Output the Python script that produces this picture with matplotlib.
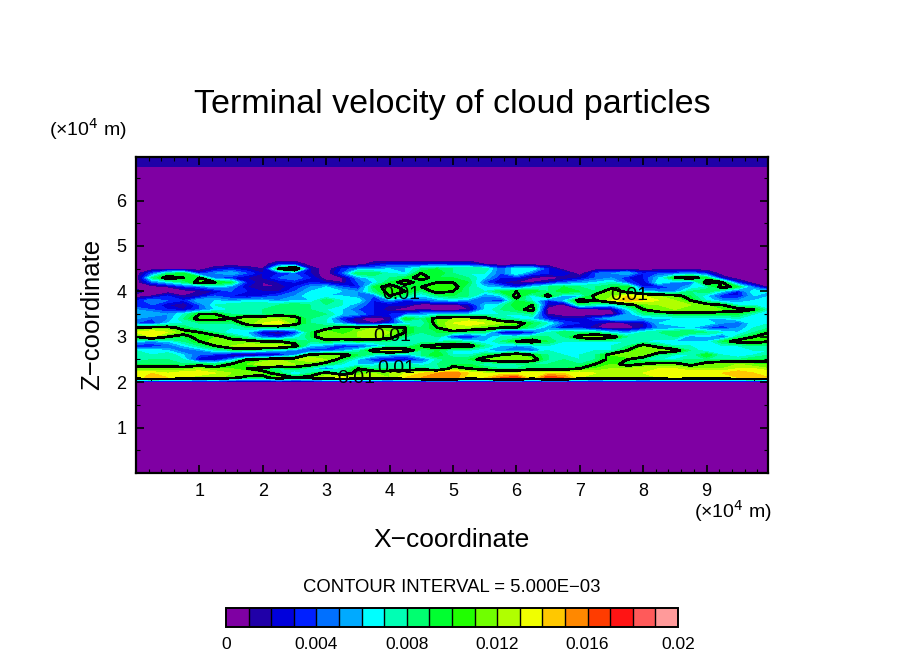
import numpy as np
import matplotlib
matplotlib.use('Agg')
import matplotlib.pyplot as plt
from matplotlib.colors import ListedColormap, BoundaryNorm

plt.rcParams['font.family'] = ['Liberation Sans', 'DejaVu Sans']
plt.rcParams['axes.unicode_minus'] = False

W, H = 904, 654

# values, in 1e-3 m/s, top row first (z = 4.7 down to 2.1)
z_rows = [4.7, 4.6, 4.5, 4.4, 4.3, 4.2, 4.1, 4.0, 3.9, 3.8, 3.7, 3.6, 3.5, 3.4,
          3.3, 3.2, 3.1, 3.0, 2.9, 2.8, 2.7, 2.6, 2.5, 2.4, 2.3, 2.2, 2.1]
x_cols = [0, .25, .5, .75, 1, 1.25, 1.5, 1.75, 2, 2.25, 2.5, 2.75, 3, 3.25, 3.5, 3.75,
          4, 4.25, 4.5, 4.75, 5, 5.25, 5.5, 5.75, 6, 6.25, 6.5, 6.75, 7, 7.25, 7.5, 7.75,
          8, 8.25, 8.5, 8.75, 9, 9.25, 9.5, 9.75, 10]
cloud = [
    [0,0,0,0,0,0,0,0,0,0,0,0,0,0,0,0,0,0,0,0,0,0,0,0,0,0,0,0,0,0,0,0,0,0,0,0,0,0,0,0,0],
    [0,0,0,0,0,0,0,0,0,3,3,0,0,0,0,2,3,3,3,3,3,3,1,0,0,0,0,0,0,0,0,0,0,0,0,0,0,0,0,0,0],
    [0,0,0,0,0,2,3,2,1,10,13,2,0,3,5,5,6,6,8,9,8,8,8,4,7,7,3,0,0,0,0,0,0,0,0,0,0,0,0,0,0],
    [0,4,8,9,3,5,6,4,2,3,4,2,0,4,9,9,7,6,10,10,8,7,7,4,7,4,3,3,0,4,5,6,3,4,4,5,3,0,0,0,0],
    [0,8,11,10,10,4,3,2,2,4,5,3,0,1,5,7,8,9,11,9,9,8,6,3,3,1,0,1,2,4,5,3,3,6,10,11,9,2,0,0,0],
    [0,4,6,8,11,10,9,3,1,2,3,3,2,1,4,6,9,11,9,10,10,9,4,2,1,1,2,4,5,6,7,4,2,7,5,4,11,10,3,0,0],
    [0,0,1,3,4,6,5,2,1,1,3,5,6,4,3,9,11,9,10,11,11,8,6,5,3,6,8,9,8,8,9,10,3,3,4,6,7,11,9,4,0],
    [2,0,0,0,1,2,4,3,2,2,4,6,7,6,5,8,11,10,8,11,10,8,7,9,10,10,8,10,9,8,12,9,6,5,5,8,9,6,3,7,6],
    [0,1,3,1,2,4,3,2,3,4,5,7,6,6,5,4,10,8,6,8,9,8,5,6,11,6,11,5,6,11,12,14,13,12,11,9,6,3,3,6,6],
    [3,5,4,3,6,6,5,6,6,5,6,6,9,7,7,3,5,3,4,5,6,5,4,3,9,7,3,6,11,10,13,15,14,13,12,10,7,5,5,6,7],
    [3,4,2,1,4,7,8,8,8,8,9,8,8,7,5,3,2,2,0,0,0,2,6,7,10,10,2,0,8,7,6,9,11,12,13,12,11,10,7,7,7],
    [5,4,3,2,4,6,7,8,8,9,9,8,7,6,4,3,1,0,1,0,0,1,6,8,9,11,0,0,0,0,1,6,10,12,12,12,12,11,11,10,7],
    [6,6,5,7,10,10,8,8,8,9,9,9,8,6,5,3,3,4,5,6,6,6,7,7,7,8,1,0,0,0,0,5,8,8,9,9,9,9,9,7,7],
    [5,4,5,8,11,11,10,12,12,12,11,8,7,3,1,0,1,10,8,11,12,12,11,8,7,6,3,2,2,4,6,6,5,6,6,6,6,6,7,7,7],
    [4,3,6,7,8,8,8,11,13,14,11,8,7,5,2,1,3,6,7,11,13,14,13,12,11,9,7,4,3,2,0,1,2,6,7,7,7,5,4,7,7],
    [10,11,11,9,7,8,7,8,8,8,8,9,9,11,11,12,12,10,8,10,13,12,11,10,10,8,5,2,3,1,0,0,2,5,5,6,4,3,5,7,8],
    [13,14,13,11,10,8,6,6,2,1,3,9,12,10,12,13,12,10,8,9,9,8,8,2,1,3,7,9,8,8,6,5,7,8,9,9,8,7,6,8,10],
    [10,13,10,9,11,11,9,7,4,3,6,9,12,12,12,13,11,8,8,8,3,2,5,7,7,8,8,8,11,12,11,8,8,8,8,5,6,4,8,10,11],
    [6,5,6,8,10,12,11,11,10,10,9,8,9,8,9,8,8,8,7,7,8,7,6,8,10,11,9,7,7,7,7,7,7,6,6,6,6,9,11,11,10],
    [3,3,4,6,8,10,12,13,13,13,11,6,5,3,3,5,7,7,10,11,11,11,8,6,5,6,7,7,7,7,7,8,11,9,7,7,7,7,7,8,8],
    [7,7,6,4,5,7,8,8,7,6,5,3,3,5,7,11,13,12,8,9,7,7,6,5,5,4,7,6,6,7,7,10,12,12,11,8,6,6,7,7,7],
    [8,7,8,6,4,3,1,0,1,2,5,11,12,11,9,7,6,5,8,10,7,7,9,10,12,10,8,7,7,8,11,12,12,8,7,7,10,7,6,7,8],
    [7,8,8,7,2,2,5,10,11,12,12,13,12,9,6,3,2,2,4,7,9,9,11,12,12,11,8,8,7,8,11,10,8,7,7,8,8,8,8,9,9],
    [9,9,9,8,9,8,10,11,13,13,12,11,9,7,6,6,8,8,6,8,9,9,7,7,8,8,8,9,8,10,11,9,10,11,11,9,11,12,12,11,11],
    [11,11,11,11,12,11,11,10,9,8,9,7,4,7,10,8,8,8,9,7,11,10,9,8,8,9,9,9,10,11,12,12,13,13,13,12,12,12,13,13,12],
    [14,14,13,14,14,13,12,12,11,9,5,8,11,8,11,12,12,13,14,15,16,14,13,13,13,14,14,14,14,13,13,13,13,14,14,14,14,14,15,14,14],
    [13,15,14,13,12,13,11,9,9,12,10,11,13,14,13,13,12,14,15,16,16,13,14,16,17,13,17,16,13,12,13,13,12,13,14,13,13,13,14,15,14],
]
top_layer = 1.5  # dark blue strip at the model top

x_ticks = [1, 2, 3, 4, 5, 6, 7, 8, 9]
y_ticks = [1, 2, 3, 4, 5, 6]
cbar_ticks = [0, 0.004, 0.008, 0.012, 0.016, 0.02]
cbar_labels = ['0', '0.004', '0.008', '0.012', '0.016', '0.02']
colors = ['#7f00a3', '#2000a8', '#0000dc', '#0020ff', '#0070ff', '#00aaff', '#00ffff',
          '#00ffb4', '#00ff70', '#00ff30', '#20ff00', '#70ff00', '#b0ff00', '#f0ff00',
          '#ffc800', '#ff8800', '#ff3c00', '#ff1414', '#ff5a5a', '#ff9a9a']
labels_x = [3.47, 4.04, 4.1, 4.18, 7.78]
labels_z = [2.09, 3.01, 2.31, 3.94, 3.91]

# add empty layers below/above the cloud and the top strip
x = np.array(x_cols, dtype=float)
z = np.array([6.96, 6.76, 6.74, 4.8] + z_rows + [2.0, 0.0])
empty = [0] * len(x_cols)
strip = [top_layer] * len(x_cols)
w = np.array([strip, strip, empty, empty] + cloud + [empty, empty], dtype=float) / 1000.0
z = z[::-1]
w = w[::-1]

def ax_rect(l, t, r, b):
    return [l / W, 1 - b / H, (r - l) / W, (b - t) / H]

fig = plt.figure(figsize=(W / 100, H / 100), dpi=100)
ax = fig.add_axes(ax_rect(136, 157, 768, 473))

levels = np.arange(0, 0.0201, 0.001)
cmap = ListedColormap(colors)
norm = BoundaryNorm(levels, cmap.N)
cf = ax.contourf(x, z, w, levels=levels, cmap=cmap, norm=norm, antialiased=False)
ax.contour(x, z, w, levels=[0.01], colors='k', linewidths=1.2, antialiased=False)

for lx, lz in zip(labels_x, labels_z):
    ax.text(lx, lz, '0.01', fontsize=14, ha='center', va='center', color='k')

ax.set_xlim(0, 9.97)
ax.set_ylim(0, 6.96)
ax.set_xticks(x_ticks)
ax.set_yticks(y_ticks)
ax.set_xticks(np.arange(0.2, 9.9, 0.2), minor=True)
ax.set_yticks(np.arange(0.5, 6.9, 0.5), minor=True)
ax.tick_params(which='major', direction='in', length=6, width=1.2, top=True, right=True,
               labelsize=13, pad=7)
ax.tick_params(which='minor', direction='in', length=3, width=0.8, top=True, right=True)
for s in ax.spines.values():
    s.set_linewidth(1.6)

fig.text(452 / W, 1 - 104 / H, 'Terminal velocity of cloud particles', fontsize=24.5,
         ha='center', va='center')
fig.text(88 / W, 1 - 129 / H, '(×10$^{4}$ m)', fontsize=14, ha='center', va='center')
fig.text(733 / W, 1 - 511 / H, '(×10$^{4}$ m)', fontsize=14, ha='center', va='center')
fig.text(452 / W, 1 - 540 / H, 'X−coordinate', fontsize=19, ha='center', va='center')
fig.text(92 / W, 1 - 314 / H, 'Z−coordinate', fontsize=18.5, rotation=90,
         ha='center', va='center')
fig.text(452 / W, 1 - 587 / H, 'CONTOUR INTERVAL = 5.000E−03', fontsize=13.3,
         ha='center', va='center')

cax = fig.add_axes(ax_rect(226, 608, 678, 627))
cb = fig.colorbar(cf, cax=cax, orientation='horizontal', spacing='proportional',
                  ticks=cbar_ticks, drawedges=True)
cb.ax.set_xticklabels(cbar_labels)
cb.ax.minorticks_off()
cb.ax.tick_params(length=0, labelsize=12.5, pad=7)
cb.dividers.set_color('k')
cb.dividers.set_linewidth(1.0)
cb.outline.set_linewidth(1.4)

fig.savefig('out.png', dpi=100)
